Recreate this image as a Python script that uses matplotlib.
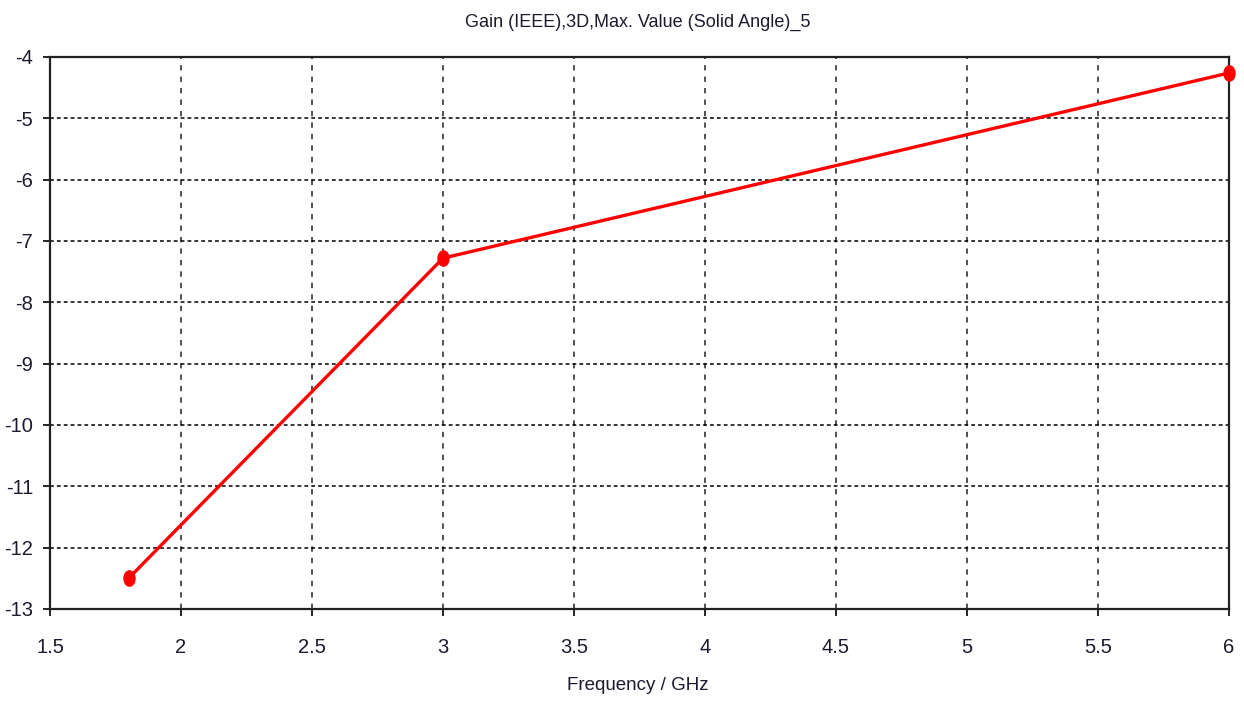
import matplotlib
matplotlib.use("Agg")
import matplotlib.pyplot as plt
from matplotlib.path import Path
from matplotlib.transforms import Affine2D

# Data
frequency_ghz = [1.8, 3.0, 6.0]
gain_dbi = [-12.5, -7.28, -4.26]
x_ticks = [1.5, 2, 2.5, 3, 3.5, 4, 4.5, 5, 5.5, 6]
x_tick_labels = ["1.5", "2", "2.5", "3", "3.5", "4", "4.5", "5", "5.5", "6"]
y_ticks = [-13, -12, -11, -10, -9, -8, -7, -6, -5, -4]
y_tick_labels = [str(v) for v in y_ticks]

title_text = "Gain (IEEE),3D,Max. Value (Solid Angle)_5"
x_label_text = "Frequency / GHz"

plt.rcParams['font.family'] = ['Liberation Sans', 'DejaVu Sans']
text_color = "#1b1b2f"

fig = plt.figure(figsize=(12.44, 7.03), dpi=100)
ax = fig.add_axes([50 / 1244, 94 / 703, 1179 / 1244, 552 / 703])

# Slightly tall elliptical marker
ellipse = Path.unit_circle().transformed(Affine2D().scale(0.72, 1.0))

ax.plot(frequency_ghz, gain_dbi, color="#ff0000", linewidth=2.4,
        marker=ellipse, markersize=11, markerfacecolor="#ff0000",
        markeredgecolor="#ff0000", zorder=3, clip_on=False)

ax.set_xlim(1.5, 6)
ax.set_ylim(-13, -4)
ax.set_xticks(x_ticks)
ax.set_xticklabels(x_tick_labels)
ax.set_yticks(y_ticks)
ax.set_yticklabels(y_tick_labels)

ax.tick_params(axis="both", direction="out", length=5, width=1.2,
               colors="black", labelcolor=text_color, labelsize=14.5, pad=7)
ax.tick_params(axis="x", pad=16)

# Dashed grid: dotted horizontals, longer-dash verticals
ax.yaxis.grid(True, color="black", linewidth=1.1, linestyle=(0, (2.5, 2)))
ax.xaxis.grid(True, color="#222222", linewidth=1.1, linestyle=(0, (3.5, 4)))
ax.set_axisbelow(True)

for spine in ax.spines.values():
    spine.set_color("#222222")
    spine.set_linewidth(1.6)

fig.text(638 / 1244, 1 - 22 / 703, title_text, ha="center", va="center",
         fontsize=13, color=text_color)
fig.text(638 / 1244, 1 - 686 / 703, x_label_text, ha="center", va="center",
         fontsize=13.5, color=text_color)

fig.savefig("out.png", dpi=100)
